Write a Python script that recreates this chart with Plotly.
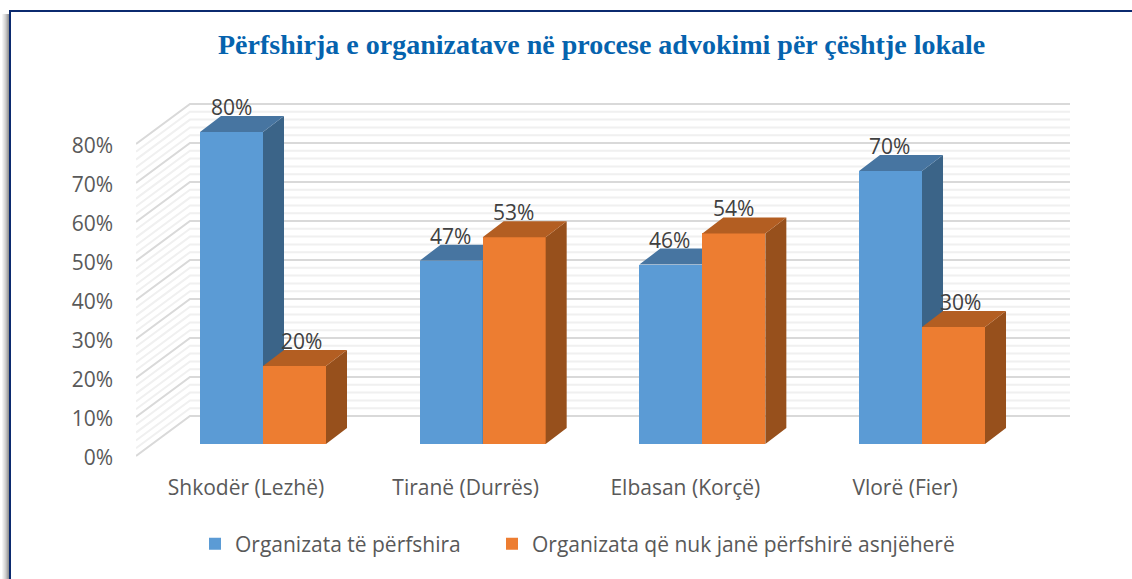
import plotly.graph_objects as go

categories = ["Shkodër (Lezhë)", "Tiranë (Durrës)", "Elbasan (Korçë)", "Vlorë (Fier)"]
included = [80, 47, 46, 70]
not_included = [20, 53, 54, 30]
series_names = ["Organizata të përfshira", "Organizata që nuk janë përfshirë asnjëherë"]
y_ticks = [0, 10, 20, 30, 40, 50, 60, 70, 80]
minor_ticks = [v for v in range(0, 81, 2) if v % 10]
label_xshift_inc = [0, -1, -1, -1]
label_xshift_not = [7, -1, 0, 7]

W, H = 1132, 579
L, R, T, B = 136, 1070, 90, 470
CAT_PX, X0_PX = 219.67, 263
UNIT_PX, Y0_PX = 3.9, 444
xr = [(L - X0_PX) / CAT_PX, (R - X0_PX) / CAT_PX]
yr = [(Y0_PX - B) / UNIT_PX, (Y0_PX - T) / UNIT_PX]

BAR_W = 63 / CAT_PX
DX, DY = 21 / CAT_PX, 16 / UNIT_PX
WALL_LEFT = xr[0]
WALL_BACK = (190 - X0_PX) / CAT_PX
WALL_FRONT_Y = -12 / UNIT_PX
WALL_BACK_Y = 28 / UNIT_PX
TICK_Y_SHIFT = -2 / UNIT_PX
xs = list(range(len(categories)))
FONT = "Open Sans"
FS = 21

fig = go.Figure()

def grid(values, color, width):
    px_, py_ = [], []
    for v in values:
        px_ += [WALL_LEFT, WALL_BACK, xr[1], None]
        py_ += [v + WALL_FRONT_Y, v + WALL_BACK_Y, v + WALL_BACK_Y, None]
    fig.add_trace(go.Scatter(x=px_, y=py_, mode="lines", line=dict(color=color, width=width),
                             showlegend=False, hoverinfo="skip", xaxis="x", yaxis="y"))

grid(minor_ticks, "#f0f0f0", 2)
grid(y_ticks, "#d9d9d9", 2)

def bars(values, name, front, top, side, offset, ax, legend):
    xa, ya = ax
    fig.add_trace(go.Bar(x=xs, y=values, name=name, width=BAR_W, offset=offset, legend=legend,
                         marker=dict(color=front, line=dict(width=0)), xaxis=xa, yaxis=ya))
    sx, sy, tx, ty = [], [], [], []
    for c, v in zip(xs, values):
        x1 = c + offset
        x2 = x1 + BAR_W
        sx += [x2, x2 + DX, x2 + DX, x2, x2, None]
        sy += [0, DY, v + DY, v, 0, None]
        tx += [x1, x1 + DX, x2 + DX, x2, x1, None]
        ty += [v, v + DY, v + DY, v, v, None]
    for px_, py_, col in ((sx, sy, side), (tx, ty, top)):
        fig.add_trace(go.Scatter(x=px_, y=py_, mode="lines", fill="toself", fillcolor=col,
                                 line=dict(width=0, color=col), showlegend=False,
                                 hoverinfo="skip", xaxis=xa, yaxis=ya))

bars(included, series_names[0], "#5B9BD5", "#4775A1", "#3B6488", -BAR_W, ("x2", "y2"), "legend")
bars(not_included, series_names[1], "#ED7D31", "#B35E22", "#97501C", 0, ("x3", "y3"), "legend2")

annotations = []
for vals, off, shifts in ((included, -BAR_W / 2, label_xshift_inc), (not_included, BAR_W / 2, label_xshift_not)):
    for c, v, s in zip(xs, vals, shifts):
        annotations.append(dict(x=c + off, y=v, xref="x", yref="y", text=f"{v}%", showarrow=False,
                                yshift=25, xshift=s, font=dict(family=FONT, size=FS, color="#404040")))

def px(x):
    return (x - L) / (R - L)

def py(y):
    return (B - y) / (B - T)

annotations.append(dict(x=px(601), y=py(45), xref="paper", yref="paper", showarrow=False,
                        xanchor="center", yanchor="middle",
                        text="<b>Përfshirja e organizatave në procese advokimi për çështje lokale</b>",
                        font=dict(family="Liberation Serif", size=28, color="#0563AE")))

shapes = []
shades = ["#f4f4f4", "#e8e8e8", "#dcdcdc", "#cfcfcf", "#bdbdbd", "#a8a8a8", "#969696"]
for i, c in enumerate(shades):
    shapes.append(dict(type="rect", xref="paper", yref="paper", x0=px(2 + i), x1=px(3 + i),
                       y0=py(14), y1=py(H), fillcolor=c, line=dict(width=0), layer="below"))
shapes.append(dict(type="line", xref="paper", yref="paper", x0=px(10), x1=px(W), y0=py(11), y1=py(11),
                   line=dict(color="#0B2A6F", width=2)))
shapes.append(dict(type="line", xref="paper", yref="paper", x0=px(10), x1=px(10), y0=py(10), y1=py(H),
                   line=dict(color="#0B2A6F", width=2)))

hidden = dict(visible=False)
legend_common = dict(orientation="h", xanchor="left", yanchor="middle",
                     font=dict(family=FONT, size=FS, color="#595959"), bgcolor="rgba(0,0,0,0)",
                     itemclick=False, itemdoubleclick=False)
fig.update_layout(
    width=W, height=H, margin=dict(l=L, r=W - R, t=T, b=H - B),
    paper_bgcolor="white", plot_bgcolor="rgba(0,0,0,0)", bargap=0,
    font=dict(family=FONT, color="#595959", size=FS),
    annotations=annotations, shapes=shapes,
    xaxis=dict(range=xr, tickmode="array", tickvals=[c - 17 / CAT_PX for c in xs], ticktext=categories,
               showgrid=False, zeroline=False, showline=False, ticks="", ticklabelstandoff=3,
               tickfont=dict(size=FS, color="#595959")),
    yaxis=dict(range=yr, tickmode="array", tickvals=[v + WALL_FRONT_Y + TICK_Y_SHIFT for v in y_ticks],
               ticktext=[f"{v}%" for v in y_ticks], showgrid=False, zeroline=False, showline=False,
               ticks="", ticklabelstandoff=22, tickfont=dict(size=FS, color="#595959")),
    xaxis2=dict(range=xr, overlaying="x", **hidden),
    yaxis2=dict(range=yr, overlaying="y", **hidden),
    xaxis3=dict(range=xr, overlaying="x", **hidden),
    yaxis3=dict(range=yr, overlaying="y", **hidden),
    legend=dict(x=px(195), y=py(544), **legend_common),
    legend2=dict(x=px(492), y=py(544), **legend_common),
)

fig.write_html("out.html", config=dict(displayModeBar=False),
               post_script="document.body.style.margin='0';document.body.style.overflow='hidden';")
